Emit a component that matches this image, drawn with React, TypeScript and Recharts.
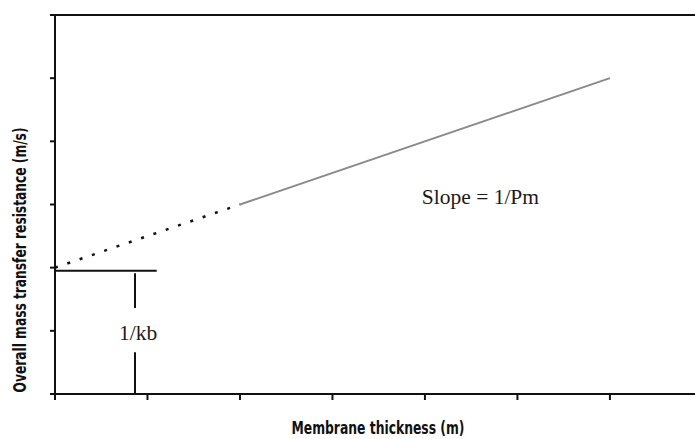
import { LineChart, Line, XAxis, YAxis, ReferenceLine, ReferenceDot } from "recharts";

// Schematic: resistance vs. membrane thickness (no numeric tick labels)
const xTicks = [0, 1, 2, 3, 4, 5, 6];
const yTicks = [0, 1, 2, 3, 4, 5, 6];
const X_MAX = 6.92;

const extrapolated = [
  { x: 0, y: 2 },
  { x: 2, y: 3 },
];
const measured = [
  { x: 2, y: 3 },
  { x: 6, y: 5 },
];

// 1/kb bracket
const interceptY = 1.95;
const interceptEndX = 1.1;
const bracketX = 0.865;
const bracketLower = [0, 0.66];
const bracketUpper = [1.36, 1.91];
const kbLabel = { x: 0.9, y: 0.98, text: "1/kb" };
const slopeLabel = { x: 4.6, y: 3.13, text: "Slope = 1/Pm" };

const xTitle = "Membrane thickness (m)";
const yTitle = "Overall mass transfer resistance (m/s)";

const INK = "#111";
const SERIF = "'Liberation Serif', 'Times New Roman', serif";
const NARROW = "'Liberation Sans Narrow', 'DejaVu Sans Condensed', 'Arial Narrow', sans-serif";

const serifLabel = (value: string) => ({
  value,
  position: "center" as const,
  fontFamily: SERIF,
  fontSize: 21.5,
  fill: "#1a1a1a",
});

const noTickText = () => <g />;

export default function App() {
  return (
    <div style={{ position: "fixed", left: 0, top: 0, background: "#fff" }}>
      <LineChart width={695} height={439} margin={{ top: 15, right: 0, left: 0, bottom: 0 }}>
        <XAxis
          type="number"
          dataKey="x"
          domain={[0, X_MAX]}
          ticks={xTicks}
          allowDataOverflow
          height={45}
          tick={noTickText}
          tickSize={6}
          axisLine={{ stroke: INK, strokeWidth: 2 }}
          tickLine={{ stroke: INK, strokeWidth: 2 }}
          label={(props: any) => (
            <text
              x={378}
              y={434}
              textAnchor="middle"
              fontFamily={NARROW}
              fontWeight="bold"
              fontSize={17}
              textLength={173}
              lengthAdjust="spacingAndGlyphs"
              fill={INK}
            >
              {xTitle}
            </text>
          )}
        />
        <YAxis
          type="number"
          dataKey="y"
          domain={[0, 6]}
          ticks={yTicks}
          width={55}
          tick={noTickText}
          tickSize={5}
          axisLine={{ stroke: INK, strokeWidth: 2 }}
          tickLine={{ stroke: INK, strokeWidth: 2 }}
          label={(props: any) => (
            <text
              x={20}
              y={260}
              transform="rotate(-90, 20, 260)"
              textAnchor="middle"
              dominantBaseline="central"
              fontFamily={NARROW}
              fontWeight="bold"
              fontSize={17}
              textLength={265}
              lengthAdjust="spacingAndGlyphs"
              fill={INK}
            >
              {yTitle}
            </text>
          )}
        />
        <ReferenceLine y={6} stroke={INK} strokeWidth={2} />
        <ReferenceLine
          segment={[{ x: 0, y: interceptY }, { x: interceptEndX, y: interceptY }]}
          stroke={INK}
          strokeWidth={2}
        />
        <ReferenceLine
          segment={[{ x: bracketX, y: bracketLower[0] }, { x: bracketX, y: bracketLower[1] }]}
          stroke={INK}
          strokeWidth={2}
        />
        <ReferenceLine
          segment={[{ x: bracketX, y: bracketUpper[0] }, { x: bracketX, y: bracketUpper[1] }]}
          stroke={INK}
          strokeWidth={2}
        />
        <Line
          data={extrapolated}
          dataKey="y"
          type="linear"
          stroke={INK}
          strokeWidth={2.5}
          strokeDasharray="3 10"
          dot={false}
          isAnimationActive={false}
        />
        <Line
          data={measured}
          dataKey="y"
          type="linear"
          stroke="#8a8a8a"
          strokeWidth={2}
          dot={false}
          isAnimationActive={false}
        />
        <ReferenceDot x={kbLabel.x} y={kbLabel.y} r={0} stroke="none" label={serifLabel(kbLabel.text)} />
        <ReferenceDot x={slopeLabel.x} y={slopeLabel.y} r={0} stroke="none" label={serifLabel(slopeLabel.text)} />
      </LineChart>
    </div>
  );
}
